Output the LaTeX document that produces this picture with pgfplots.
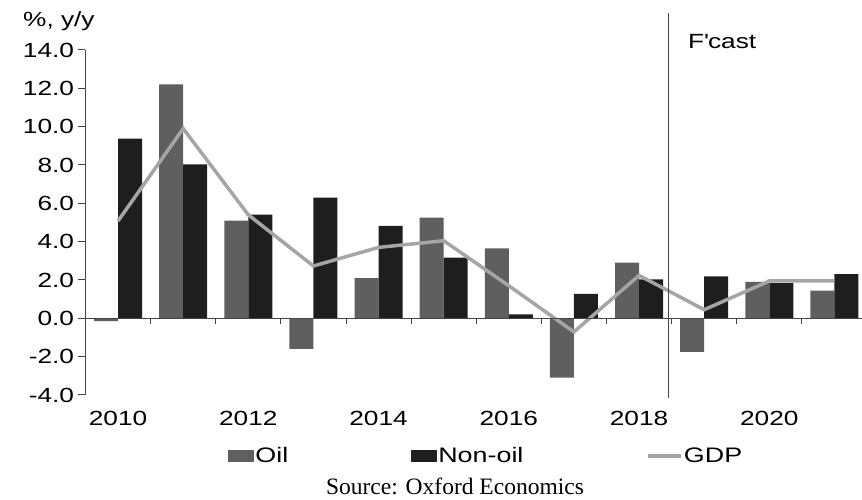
\documentclass[border=0pt]{standalone}
\usepackage{pgfplots}
\pgfplotsset{compat=1.18}
\usepackage{fontspec}
\setmainfont{Liberation Sans}[FakeStretch=1.28]
\newfontfamily\srcfont{Liberation Serif}
\definecolor{oilc}{HTML}{5F5F5F}
\definecolor{nonc}{HTML}{1E1E1E}
\definecolor{gdpc}{HTML}{A5A5A5}
\definecolor{axc}{HTML}{444444}
\begin{document}
\begin{tikzpicture}
\useasboundingbox (-85.5pt,-105pt) rectangle (776.5pt,395pt);
\begin{axis}[
  at={(0pt,0pt)}, anchor=south west,
  scale only axis, width=781.5pt, height=345pt,
  xmin=2009.5, xmax=2021.5, ymin=-4, ymax=14,
  clip=false,
  font=\fontsize{20.5}{22}\selectfont,
  axis y line=left, axis x line=bottom,
  y axis line style={-, draw=axc, line width=1pt},
  x axis line style={draw=none},
  ytick={-4,-2,...,14},
  yticklabel style={/pgf/number format/.cd, fixed, fixed zerofill, precision=1, assume math mode=true},
  /pgf/number format/assume math mode=true,
  xtick={2010,2012,2014,2016,2018,2020},
  xticklabels={2010,2012,2014,2016,2018,2020},
  xticklabel style={yshift=-5pt},
  tick align=outside,
  y tick style={draw=axc, line width=1pt},
  x tick style={draw=none},
  major tick length=8pt,
  ybar=0pt, bar width=24pt,
  legend columns=3,
  legend style={draw=none, fill=none, inner sep=0pt, outer sep=0pt,
    at={(0.1823,-0.1768)}, anchor=west,
    font=\fontsize{21}{22}\selectfont,
    nodes={inner sep=1.5pt},
    /tikz/every even column/.append style={column sep=121pt}},
]
\addplot[fill=oilc, draw=none,
  legend image code/.code={\fill[oilc] (0pt,-6pt) rectangle (26pt,6pt);}]
  coordinates {(2010,-0.15) (2011,12.2) (2012,5.1) (2013,-1.6) (2014,2.1) (2015,5.25)
   (2016,3.65) (2017,-3.1) (2018,2.9) (2019,-1.75) (2020,1.9) (2021,1.45)};
\addlegendentry{Oil}
\addplot[fill=nonc, draw=none,
  legend image code/.code={\fill[nonc] (0pt,-6pt) rectangle (26pt,6pt);}]
  coordinates {(2010,9.37) (2011,8.03) (2012,5.41) (2013,6.3) (2014,4.82) (2015,3.17)
   (2016,0.2) (2017,1.27) (2018,2.03) (2019,2.19) (2020,1.84) (2021,2.3)};
\addlegendentry{Non-oil}
\addplot[sharp plot, draw=gdpc, line width=3.5pt, no marks,
  legend image code/.code={\draw[gdpc, line width=3.5pt] (0pt,0pt) -- (33pt,0pt);}]
  coordinates {(2010,5.08) (2011,9.9) (2012,5.4) (2013,2.73) (2014,3.7) (2015,4.05)
   (2016,1.7) (2017,-0.71) (2018,2.24) (2019,0.45) (2020,1.95) (2021,1.95)};
\addlegendentry{GDP}
\draw[axc, line width=1pt] (axis cs:2009.5,0) -- (axis cs:2021.7,0);
\pgfplotsinvokeforeach{2010.5,2011.5,2012.5,2013.5,2014.5,2015.5,2016.5,2017.5,2018.5,2019.5,2020.5}{
  \draw[axc, line width=1pt] (axis cs:#1,0) -- ++(0pt,-6pt);
}
\draw[axc, line width=1.2pt] (axis cs:2018.45,15.93) -- (axis cs:2018.45,-4.16);
\node[anchor=west, inner sep=0pt, font=\fontsize{20.5}{22}\selectfont] at (axis cs:2018.75,14.45) {F\textquotesingle cast};
\node[anchor=base west, inner sep=0pt, font=\fontsize{20.5}{22}\selectfont] at (axis description cs:-0.08,1.0667) {\%, y/y};
\node[anchor=base, inner sep=0pt, font=\srcfont\fontsize{23.5}{26}\selectfont] at (axis description cs:0.4728,-0.2878) {Source: Oxford Economics};
\end{axis}
\end{tikzpicture}
\end{document}
